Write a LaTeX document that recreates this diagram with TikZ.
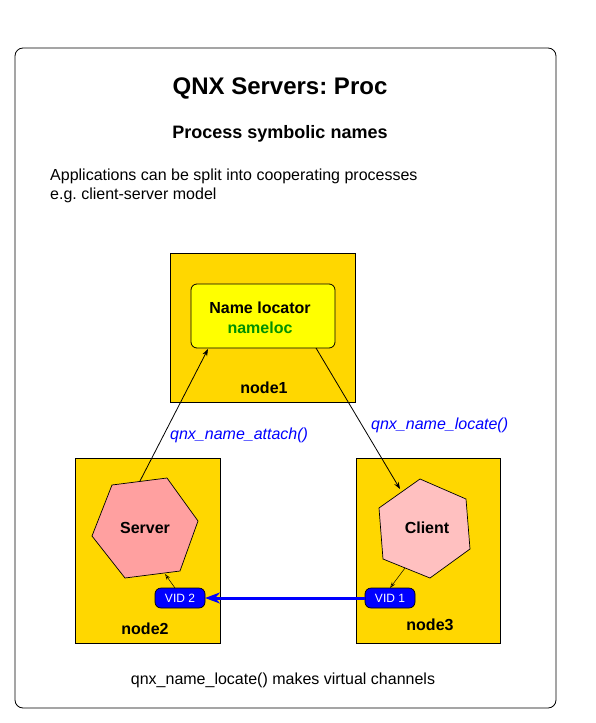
\documentclass[tikz,border=0pt]{standalone}
\usepackage{fontspec}
\setmainfont{Liberation Sans}
\usetikzlibrary{arrows.meta}
\frenchspacing
\definecolor{gold}{HTML}{FFD700}
\definecolor{nlyellow}{HTML}{FFFF00}
\definecolor{nlgreen}{HTML}{009000}
\definecolor{srvpink}{HTML}{FFA0A0}
\definecolor{clipink}{HTML}{FFC0C0}
\definecolor{vblue}{HTML}{0000FF}
\tikzset{
  frame/.style={draw=black, line width=0.8pt, rounded corners=8pt},
  nodebox/.style={draw=black, line width=0.8pt, fill=gold, inner sep=0pt, outer sep=0pt},
  locbox/.style={draw=black, line width=0.8pt, fill=nlyellow, rounded corners=6pt, inner sep=0pt, outer sep=0pt},
  hexa/.style={draw=black, line width=0.7pt},
  vid/.style={draw=black, line width=0.7pt, fill=vblue, rounded corners=6pt, inner sep=0pt, outer sep=0pt,
    minimum width=50pt, minimum height=20pt, text=white, font=\fontsize{12}{14}\selectfont},
  txt/.style={inner sep=0pt, anchor=base, font=\fontsize{16}{19}\selectfont},
  btxt/.style={txt, font=\fontsize{16}{19}\selectfont\bfseries},
  itxt/.style={inner sep=0pt, anchor=base west, text=vblue, font=\fontsize{16}{19}\selectfont\itshape},
  conn/.style={draw=black, line width=0.8pt, -{Stealth[length=7pt,width=5pt]}},
  small/.style={draw=black, line width=0.5pt, -{Stealth[length=6pt,width=4pt,open]}},
  vchan/.style={draw=vblue, line width=3pt, -{Stealth[length=15pt,width=11pt]}},
}
\begin{document}
\begin{tikzpicture}[x=1pt,y=-1pt]
\useasboundingbox (0,0) rectangle (595,723);
\fill[white] (0,0) rectangle (595,723);
% frame
\draw[frame] (15,48) rectangle (556,708);
% titles
\node[txt, font=\fontsize{24}{28}\selectfont\bfseries] (title) at (280,94) {QNX Servers: Proc};
\node[txt, font=\fontsize{18}{21}\selectfont\bfseries] (sub) at (280,138) {Process symbolic names};
\node[txt, anchor=base west] (app1) at (50,180) {Applications can be split into cooperating processes};
\node[txt, anchor=base west] (app2) at (50,199) {e.g. client-server model};
\node[txt] (bottom) at (283,684) {qnx\_name\_locate() makes virtual channels};
% node boxes
\node[nodebox, minimum width=185pt, minimum height=149pt] (n1) at (262.5,327.5) {};
\node[nodebox, minimum width=145pt, minimum height=185pt] (n2) at (148,551) {};
\node[nodebox, minimum width=144pt, minimum height=185pt] (n3) at (428,551) {};
\node[btxt] (n1lab) at (264,393) {node1};
\node[btxt] (n2lab) at (145,634) {node2};
\node[btxt] (n3lab) at (430,630) {node3};
% name locator
\node[locbox, minimum width=144pt, minimum height=64pt] (nl) at (263,316) {};
\node[btxt] (nltxt) at (260,313) {Name locator};
\node[btxt, text=nlgreen] (nltxt2) at (260,333) {nameloc};
% hexagons
\draw[hexa, fill=srvpink] (112,485) -- (167,478) -- (198,521) -- (180,571) -- (125,578) -- (92,536) -- cycle;
\draw[hexa, fill=clipink] (420,479) -- (466,499) -- (470,549) -- (430,578) -- (383,559) -- (379,508) -- cycle;
\node[btxt] (srv) at (145,533) {Server};
\node[btxt] (cli) at (427,533) {Client};
% VIDs
\node[vid] (vid2) at (180,598) {VID 2};
\node[vid] (vid1) at (390,598) {VID 1};
% connector end points
\coordinate (srvtop) at (140,481);
\coordinate (nlin) at (208,349);
\coordinate (nlout) at (316,348);
\coordinate (clitop) at (400,489);
\coordinate (srvbot) at (165,574);
\coordinate (vid2top) at (175,588);
\coordinate (clibot) at (405,568);
\coordinate (vid1top) at (390,588);
% connectors
\draw[conn] (srvtop) -- (nlin);
\draw[conn] (nlout) -- (clitop);
\draw[small] (vid2top) -- (srvbot);
\draw[small] (clibot) -- (vid1top);
\draw[vchan] (vid1.west) -- (vid2.east);
% labels
\node[itxt] (attach) at (170,439) {qnx\_name\_attach()};
\node[itxt] (locate) at (371,429) {qnx\_name\_locate()};
\end{tikzpicture}
\end{document}
